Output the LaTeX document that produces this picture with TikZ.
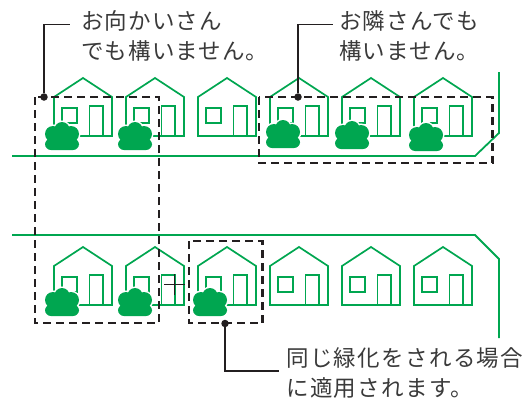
\documentclass[tikz,border=0pt]{standalone}
\usepackage{fontspec}
\newfontfamily\jpfont[LetterSpace=5]{Noto Sans CJK JP}
\newfontfamily\jpwide[LetterSpace=6]{Noto Sans CJK JP}
\definecolor{leafgreen}{HTML}{00A650}
\definecolor{inkgray}{HTML}{3A3A3A}
\definecolor{inkblack}{HTML}{231F20}

\newcommand{\bushparts}[1]{
  \path[#1] (17,7.5) circle (7.5);
  \path[#1] (8,12) circle (8);
  \path[#1] (26,12) circle (8);
  \path[#1] (5,10) rectangle (29,20);
  \path[#1,rounded corners=6] (0,16.5) rectangle (34,28);
}

\begin{document}
\begin{tikzpicture}[x=1pt,y=-1pt,
  road/.style={leafgreen,line width=1.8pt},
  wall/.style={leafgreen,line width=1.7pt},
  area/.style={inkblack,line width=2.6pt,dash pattern=on 8pt off 5pt},
  lead/.style={inkblack,line width=1.3pt},
  dot node/.style={circle,fill=inkblack,inner sep=0pt,minimum size=7.5pt},
  note node/.style={anchor=north west,inner sep=0pt,align=left,text=inkgray},
  house/.pic={
    \draw[wall] (0,19) -- (29,0) -- (58,19) -- (58,58) -- (0,58) -- cycle;
    \draw[wall] (8,30) rectangle (23,45);
    \draw[wall] (35.5,58) |- (49,28) -- (49,58);
  },
  bush/.pic={
    \bushparts{fill=white,draw=white,line width=3pt}
    \bushparts{fill=leafgreen}
  }]
  \useasboundingbox (0,0) rectangle (532,399);

  % houses
  \foreach \hx in {54,126,198,270,342,414}
    \pic at (\hx,78) {house};
  \foreach \hx in {54,126,198,270,342,414}
    \pic at (\hx,247) {house};

  % bushes
  \foreach \bx/\by in {45/122,118/122,266/120,335/121,409/123,45/288,118/288,193/288}
    \pic at (\bx,\by) {bush};

  % roads
  \draw[road] (12,156) -- (475,156) -- (499,133) -- (499,72);
  \draw[road] (12,235) -- (475,235) -- (499,259) -- (499,338);
  \draw[leafgreen,line width=2.8pt] (12,235) -- (38,235);

  % areas
  \draw[area] (35,97) rectangle (159,323);
  \draw[area] (259,97) rectangle (492.5,163);
  \draw[area] (189,241) rectangle (262.5,323);

  % cross
  \draw[inkblack,line width=1.8pt] (164,284.5) -- (185,284.5) (174.5,274) -- (174.5,295);

  % notes
  \node[note node,font=\jpfont\fontsize{22.5}{30}\selectfont] (mukai) at (81,10) {お向かいさん\\でも構いません。};
  \node[note node,font=\jpfont\fontsize{22.5}{30}\selectfont] (tonari) at (339,10) {お隣さんでも\\構いません。};
  \node[note node,font=\jpwide\fontsize{22.5}{30}\selectfont] (onaji) at (286,347) {同じ緑化をされる場合\\に適用されます。};

  \node[dot node] (mukaidot) at (44,97) {};
  \node[dot node] (tonaridot) at (298,97) {};
  \node[dot node] (onajidot) at (225,323.5) {};
  \coordinate (mukaiend) at (70,24.5);
  \coordinate (tonariend) at (333,24.5);
  \coordinate (onajiend) at (279,371);

  \draw[lead] (mukaidot) |- (mukaiend);
  \draw[lead] (tonaridot) |- (tonariend);
  \draw[lead] (onajidot) |- (onajiend);
\end{tikzpicture}
\end{document}
